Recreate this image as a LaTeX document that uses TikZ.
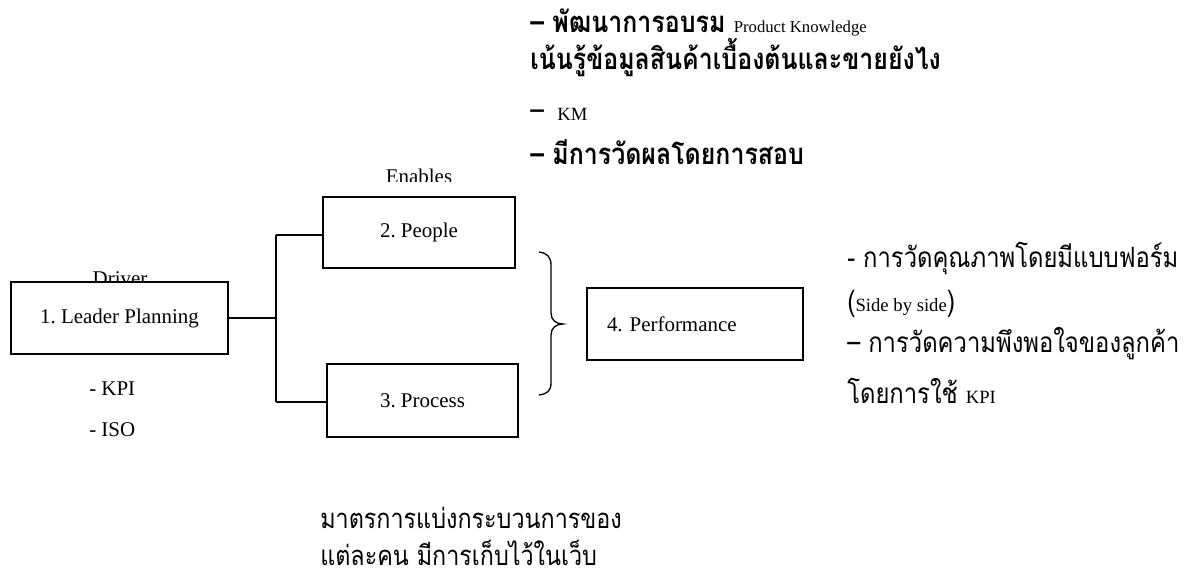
\documentclass[tikz,border=0pt]{standalone}
\usepackage{fontspec}
\setmainfont{Liberation Serif}
\newfontfamily\thaifnt[Script=Thai,FakeStretch=0.85]{Loma}
\newcommand\latfont{\fontsize{15.7}{18}\selectfont}
\newcommand\latsmall{\fontsize{12.5}{15}\selectfont}
\newcommand\latmid{\fontsize{14}{16}\selectfont}
\newcommand\thtop{\fontsize{22}{26}\selectfont}
\newcommand\thright{\fontsize{21}{25}\selectfont}
\newcommand\thbot{\fontsize{20.6}{24}\selectfont}
\frenchspacing
\begin{document}
\frenchspacing
\begin{tikzpicture}[x=0.75pt,y=-0.75pt,
  box/.style={draw, line width=1pt, fill=white, inner sep=0pt, font=\latfont},
  conn/.style={line width=0.8pt},
  lbl/.style={inner sep=0pt, anchor=base west},
]
\useasboundingbox (0,0) rectangle (1190,583);
% labels partly hidden
\node[lbl, anchor=base, font=\latfont] (driver) at (120,285) {Driver};
\begin{scope}
  \clip (330,150) rectangle (520,181);
  \node[lbl, anchor=base, font=\latfont] (enables) at (419,183) {Enables};
\end{scope}
% boxes
\node[box, minimum width=162.75pt, minimum height=54pt] (b1) at (119.5,318) {1. Leader Planning};
\node[box, minimum width=144pt, minimum height=53.25pt] (b2) at (419,232.5) {2. People};
\node[box, minimum width=143.25pt, minimum height=54.75pt] (b3) at (422.5,400.5) {3. Process};
\node[box, minimum width=162pt, minimum height=54pt, inner xsep=15pt, text width=132pt, align=left] (b4) at (695,324) {4. Performance};
% connectors
\coordinate (jm) at (276,318);
\coordinate (jt) at (276,235);
\coordinate (jb) at (276,402);
\draw[conn] (b1.east) -- (jm);
\draw[conn] (jt) -- (jb);
\draw[conn] (jt) -- (jt -| b2.west);
\draw[conn] (jb) -- (jb -| b3.west);
% brace
\draw[line width=1pt] (539,252) .. controls (547,253) and (551,257) .. (551,265)
  -- (551,313) .. controls (551,320) and (556,324) .. (563,324)
  .. controls (556,324) and (551,328) .. (551,335)
  -- (551,383) .. controls (551,391) and (547,394) .. (539,395);
% left list
\node[lbl, font=\latfont] (kpi) at (89,395) {- KPI};
\node[lbl, font=\latfont] (iso) at (89,436) {- ISO};
% top list
\node[lbl] (t1) at (530,32) {\thaifnt\thtop\bfseries – พัฒนาการอบรม \latsmall\rmfamily\mdseries Product Knowledge};
\node[lbl] (t2) at (530,69) {\thaifnt\thtop\bfseries เน้นรู้ข้อมูลสินค้าเบื้องต้นและขายยังไง};
\node[lbl] (t3) at (530,120) {\thaifnt\thtop –\hspace{10pt}\latmid\rmfamily KM};
\node[lbl] (t4) at (530,164) {\thaifnt\thtop\bfseries – มีการวัดผลโดยการสอบ};
% right list
\node[lbl] (r1) at (847,267) {\thaifnt\thright - การวัดคุณภาพโดยมีแบบฟอร์ม};
\node[lbl] (r2) at (847,311) {\thaifnt\fontsize{22}{26}\selectfont (\latmid\rmfamily Side by side\thaifnt\fontsize{22}{26}\selectfont )};
\node[lbl] (r3) at (847,352) {\thaifnt\thright – การวัดความพึงพอใจของลูกค้า};
\node[lbl] (r4) at (847,403) {\thaifnt\thright โดยการใช้ \latmid\rmfamily KPI};
% bottom
\node[lbl] (m1) at (320,528) {\thaifnt\thbot มาตรการแบ่งกระบวนการของ};
\node[lbl] (m2) at (320,565) {\thaifnt\thbot แต่ละคน มีการเก็บไว้ในเว็บ};
\end{tikzpicture}
\end{document}
